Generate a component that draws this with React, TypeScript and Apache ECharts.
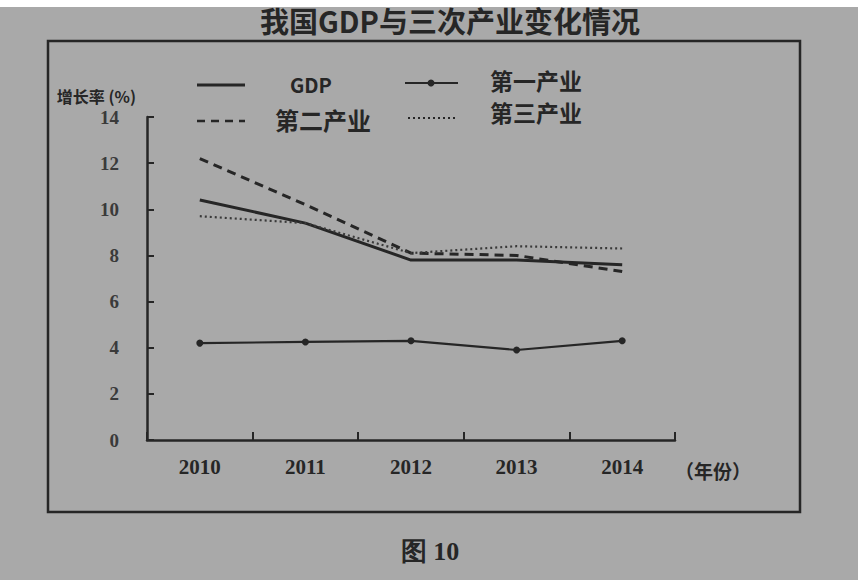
import React, { useEffect, useRef } from "react";
import * as echarts from "echarts";

const years = ["2010", "2011", "2012", "2013", "2014"];
const gdp = [10.4, 9.4, 7.8, 7.8, 7.6];
const primary = [4.2, 4.25, 4.3, 3.9, 4.3];
const secondary = [12.2, 10.2, 8.1, 8.0, 7.3];
const tertiary = [9.7, 9.4, 8.1, 8.4, 8.3];
const yTicks = { min: 0, max: 14, interval: 2 };

const INK = "#262626";
const SERIF = "'Liberation Serif', 'DejaVu Serif', serif";
const CJK = "'Noto Sans CJK SC', 'Liberation Serif', sans-serif";

export default function App() {
  const ref = useRef<HTMLDivElement>(null);
  useEffect(() => {
    if (!ref.current) return;
    const chart = echarts.init(ref.current, undefined, { renderer: "svg" });
    const line = (x1: number, y1: number, x2: number, y2: number, type: any, w: number) => ({
      type: "line",
      shape: { x1, y1, x2, y2 },
      style: { stroke: INK, lineWidth: w, lineDash: type },
      silent: true,
    });
    const txt = (x: number, y: number, text: string, size: number, font = CJK, align = "left") => ({
      type: "text",
      x,
      y,
      style: {
        text,
        fontSize: size,
        fontFamily: font,
        fontWeight: "bold",
        fill: INK,
        textAlign: align,
        textVerticalAlign: "middle",
      },
      silent: true,
    });
    chart.setOption({
      animation: false,
      backgroundColor: "transparent",
      grid: { left: 147, right: 183, top: 117, bottom: 140 },
      xAxis: {
        type: "category",
        data: years,
        boundaryGap: true,
        name: "（年份）",
        nameLocation: "end",
        nameGap: 0,
        nameTextStyle: {
          fontFamily: CJK,
          fontSize: 19,
          fontWeight: "bold",
          color: INK,
          verticalAlign: "top",
          align: "left",
          padding: [21, 0, 0, 0],
        },
        axisLine: { lineStyle: { color: INK, width: 2.5 } },
        axisTick: { show: true, inside: true, length: 8, lineStyle: { color: INK, width: 2 } },
        axisLabel: {
          margin: 16,
          fontFamily: SERIF,
          fontSize: 21,
          fontWeight: "bold",
          color: INK,
        },
        splitLine: { show: false },
      },
      yAxis: {
        type: "value",
        min: yTicks.min,
        max: yTicks.max,
        interval: yTicks.interval,
        name: "增长率 (%)",
        nameLocation: "end",
        nameGap: 13,
        nameTextStyle: {
          fontFamily: CJK,
          fontSize: 16,
          fontWeight: "bold",
          color: INK,
          align: "right",
          padding: [0, 11, 0, 0],
        },
        axisLine: { show: true, lineStyle: { color: INK, width: 2.5 } },
        axisTick: { show: true, inside: true, length: 7, lineStyle: { color: INK, width: 2 } },
        axisLabel: {
          margin: 28,
          fontFamily: SERIF,
          fontSize: 19,
          fontWeight: "bold",
          color: "#3a3a3a",
        },
        splitLine: { show: false },
      },
      series: [
        {
          name: "GDP",
          type: "line",
          data: gdp,
          symbol: "none",
          lineStyle: { color: INK, width: 3 },
        },
        {
          name: "第一产业",
          type: "line",
          data: primary,
          symbol: "circle",
          symbolSize: 7,
          itemStyle: { color: INK },
          lineStyle: { color: INK, width: 2.2 },
        },
        {
          name: "第二产业",
          type: "line",
          data: secondary,
          symbol: "none",
          lineStyle: { color: INK, width: 3, type: [9, 6] },
        },
        {
          name: "第三产业",
          type: "line",
          data: tertiary,
          symbol: "none",
          lineStyle: { color: "#3a3a3a", width: 2.2, type: [2, 3] },
        },
      ],
      graphic: [
        {
          type: "rect",
          shape: { x: 48, y: 41, width: 752, height: 471 },
          style: { fill: "none", stroke: INK, lineWidth: 2.5 },
          silent: true,
        },
        txt(450, 20, "我国GDP与三次产业变化情况", 29, CJK, "center"),
        txt(430, 551, "图 10", 26, SERIF, "center"),
        line(197, 85, 245, 85, null, 3),
        txt(290, 84, "GDP", 20, CJK),
        line(405, 83, 458, 83, null, 2.2),
        { type: "circle", shape: { cx: 431, cy: 83, r: 3.5 }, style: { fill: INK }, silent: true },
        txt(490, 80, "第一产业", 23, CJK),
        line(197, 121, 245, 121, [8, 6], 2.5),
        txt(275, 119, "第二产业", 24, CJK),
        line(408, 118, 458, 118, [2, 3], 2),
        txt(490, 112, "第三产业", 23, CJK),
      ],
    });
    return () => chart.dispose();
  }, []);
  return (
    <div
      ref={ref}
      style={{
        position: "fixed",
        left: 0,
        top: 0,
        width: 858,
        height: 580,
        background: "linear-gradient(to bottom, #ffffff 0px, #ffffff 7px, #a9a9a9 7px)",
      }}
    />
  );
}
